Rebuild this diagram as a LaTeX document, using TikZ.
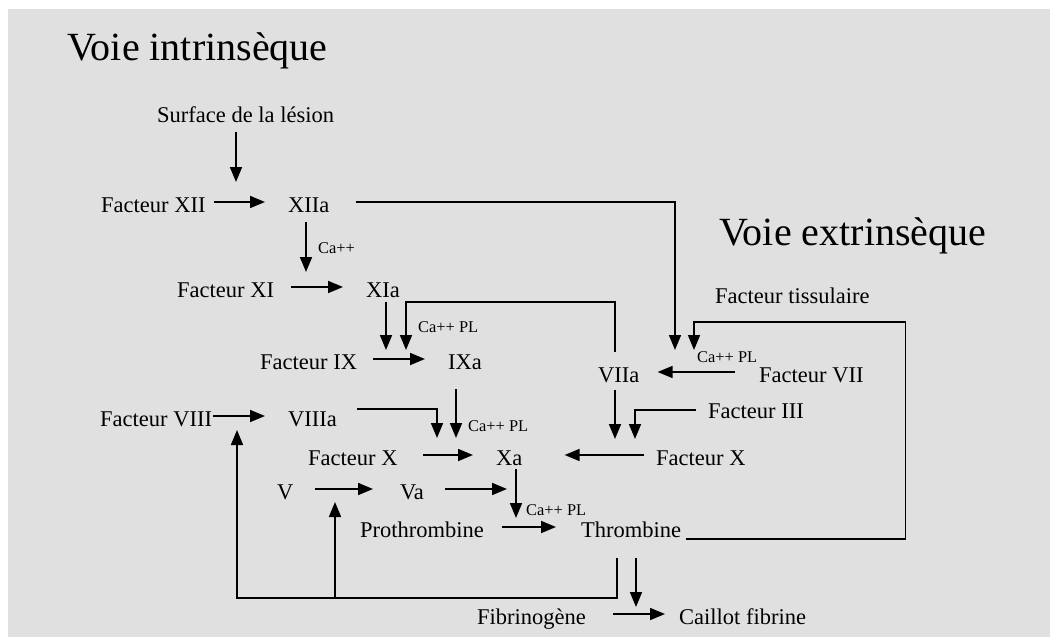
\documentclass[tikz,border=0pt]{standalone}
\usepackage{fontspec}
\setmainfont{Liberation Serif}
\usetikzlibrary{arrows.meta}
\definecolor{fond}{HTML}{E0E0E0}
\begin{document}
\begin{tikzpicture}[x=1pt,y=-1pt,
    every node/.style={anchor=west,inner sep=0pt,text height=20pt,text depth=0pt,
      font=\fontsize{22.5}{27}\selectfont},
    titre/.style={anchor=base west,font=\fontsize{40}{48}\selectfont},
    ion/.style={text height=11pt,font=\fontsize{16.4}{20}\selectfont},
    fleche/.style={-{Triangle[length=15pt,width=12pt]},line width=1.7pt}]
  \useasboundingbox (0,0) rectangle (1050,637);
  \fill[fond] (8,9) rectangle (1050,637);
  \draw
    (67,60) node[titre] (intr){Voie intrinsèque}
    (719,245) node[titre] (extr){Voie extrinsèque}
    (157,112) node (surf){Surface de la lésion}
    (101,202) node (fXII){Facteur XII}
    (288,202) node (XIIa){XIIa}
    (177,287) node (fXI){Facteur XI}
    (366,287) node (XIa){XIa}
    (260,359) node (fIX){Facteur IX}
    (448,359) node (IXa){IXa}
    (715,293) node (tiss){Facteur tissulaire}
    (598,372) node (VIIa){VIIa}
    (759,372) node (fVII){Facteur VII}
    (100,416) node (fVIII){Facteur VIII}
    (288,416) node (VIIIa){VIIIa}
    (708,408) node (fIII){Facteur III}
    (308,455) node (fXg){Facteur X}
    (496,455) node (Xa){Xa}
    (656,455) node (fXd){Facteur X}
    (277,489) node (V){V}
    (400,489) node (Va){Va}
    (360,527) node (proth){Prothrombine}
    (581,527) node (thromb){Thrombine}
    (477,614) node (fibr){Fibrinogène}
    (679,614) node (caillot){Caillot fibrine};
  \draw
    (318,248) node[ion] (ca1){Ca++}
    (418,327) node[ion] (ca2){Ca++ PL}
    (697,357) node[ion] (ca3){Ca++ PL}
    (468,426) node[ion] (ca4){Ca++ PL}
    (526,510) node[ion] (ca5){Ca++ PL};
  \coordinate (tSurf) at (236,182);
  \coordinate (tXII) at (306,272);
  \coordinate (tXIa) at (386,350);
  \coordinate (tXIb) at (406,350);
  \coordinate (tIXa) at (456,438);
  \coordinate (tVIIIa) at (437,438);
  \coordinate (tXIIa) at (675,350);
  \coordinate (tTis) at (694,350);
  \coordinate (tVIIa) at (615,439);
  \coordinate (tIII) at (635,439);
  \coordinate (tXa) at (516,518);
  \coordinate (tVa) at (507,489);
  \coordinate (tVIII) at (237,430);
  \coordinate (tV) at (335,502);
  \coordinate (cBas) at (617,598);
  \coordinate (tFib) at (636,607);
  \begin{scope}[fleche]
    \draw (surf.south -| tSurf) ++(0,10) -- (tSurf);
    \draw[shorten <=8pt,shorten >=23pt] (fXII) -- (XIIa);
    \draw (XIIa.south -| tXII) ++(0,10) -- (tXII);
    \draw (XIIa.east) ++(26,0) -| (tXIIa);
    \draw[shorten <=17pt,shorten >=23pt] (fXI) -- (XIa);
    \draw (XIa.south -| tXIa) ++(0,5) -- (tXIa);
    \draw (VIIa.north -| tVIIa) ++(0,-10) |- ++(-209,-50) -- (tXIb);
    \draw[shorten <=16pt,shorten >=23pt] (fIX) -- (IXa);
    \draw (IXa.south -| tIXa) ++(0,20) -- (tIXa);
    \draw (thromb.east) ++(5,12) -| ++(219,-217) -| (tTis);
    \draw[shorten <=24pt,shorten >=18pt] (fVII) -- (VIIa);
    \draw[shorten <=1pt,shorten >=23pt] (fVIII) -- (VIIIa);
    \draw (VIIIa.east) ++(20,-7) -| (tVIIIa);
    \draw (VIIa.south -| tVIIa) ++(0,8) -- (tVIIa);
    \draw (fIII.west) ++(-12,2) -| (tIII);
    \draw[shorten <=25pt,shorten >=23pt] (fXg) -- (Xa);
    \draw[shorten <=12pt,shorten >=42pt] (fXd) -- (Xa);
    \draw (Xa.south -| tXa) ++(0,4) -- (tXa);
    \draw[shorten <=21pt,shorten >=27pt] (V) -- (Va);
    \draw[shorten <=21pt] (Va) -- (tVa);
    \draw[shorten <=18pt,shorten >=25pt] (proth) -- (thromb);
    \draw (thromb.south -| cBas) ++(0,21) -- (cBas) -| (tVIII);
    \draw (cBas -| tV) -- (tV);
    \draw (thromb.south -| tFib) ++(0,21) -- (tFib);
    \draw[shorten <=27pt,shorten >=14pt] (fibr) -- (caillot);
  \end{scope}
\end{tikzpicture}
\end{document}
